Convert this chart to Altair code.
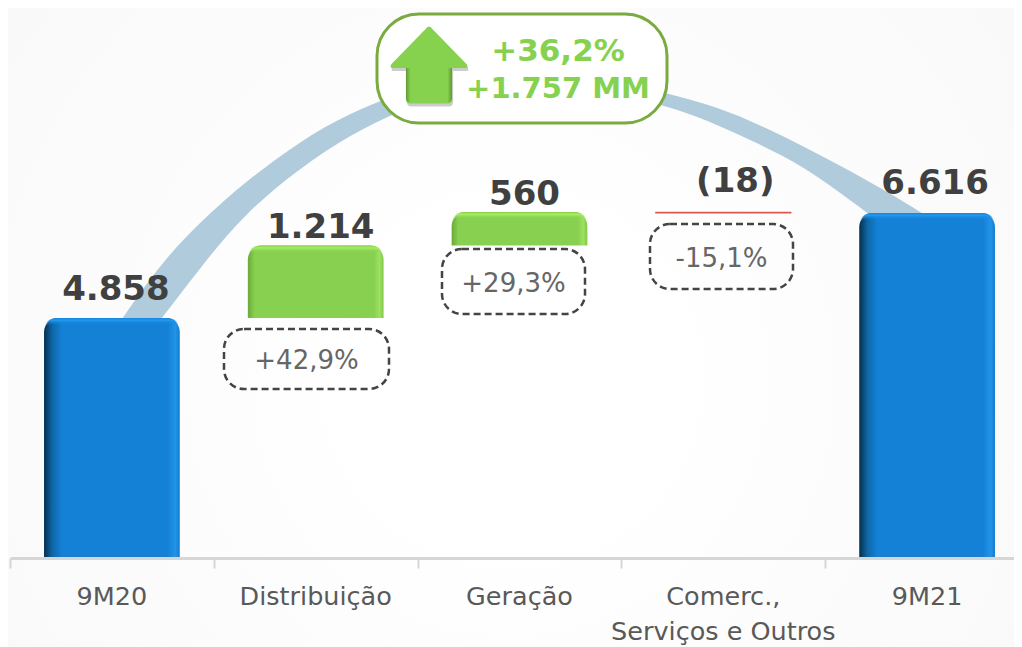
import altair as alt
import pandas as pd

# Waterfall data
categories = ["9M20", "Distribuição", "Geração", "Comerc.,\nServiços e Outros", "9M21"]
values = [4858, 1214, 560, -18, 6616]
value_labels = ["4.858", "1.214", "560", "(18)", "6.616"]
kinds = ["total", "up", "up", "down", "total"]
pct_labels = ["+42,9%", "+29,3%", "-15,1%"]
callout_lines = ["+36,2%", "+1.757 MM"]
AXIS_FLOOR = 838   # the reference's value axis is cut off here

# Arc behind the bars (category units / value units)
arc_x = [.417, .55, .746, .932, 1.153, 1.423, 1.668, 1.914, 2.159, 2.502, 2.993, 3.224, 3.42, 3.631, 3.891, 4.205, 4.48, 4.612]
arc_top = [4155, 4858, 5796, 6466, 7136, 7823, 8292, 8627, 8845, 8962, 8794, 8627, 8442, 8175, 7739, 7170, 6617, 6298]
arc_bot = [3317, 3987, 4858, 5696, 6617, 7371, 7923, 8342, 8593, 8761, 8593, 8409, 8175, 7840, 7421, 6617, 5947, 5495]

rows, run = [], 0
for i, (c, v, lab, k) in enumerate(zip(categories, values, value_labels, kinds)):
    if k == "total":
        lo, hi = AXIS_FLOOR, v
        run = v
    else:
        lo, hi = run, run + v
        run += v
    rows.append(dict(cat=c, label=lab, kind=k, x0=i + .167, x1=i + .833, xc=i + .5,
                     top=max(lo, hi), bottom=min(lo, hi), rim=max(lo, hi) - 400))
df = pd.DataFrame(rows)

W, H = 1004, 550
xs = alt.Scale(domain=[0, W / 203.8], nice=False, zero=False)
ys = alt.Scale(domain=[AXIS_FLOOR, 10050], nice=False, zero=False)
x_axis = alt.Axis(values=[0, 1, 2, 3, 4], labels=False, title=None, grid=False, zindex=1,
                  domainColor="#d6d6d6", domainWidth=3, tickColor="#d6d6d6", tickWidth=2, tickSize=10)
X = lambda f: alt.X(f, type="quantitative", scale=xs, axis=x_axis)
Y = lambda f: alt.Y(f, type="quantitative", scale=ys, axis=None)
one = alt.Data(values=[{"a": 1}])


def hgrad(stops):
    return alt.Gradient(gradient="linear", x1=0, x2=1, y1=0, y2=0,
                        stops=[alt.GradientStop(offset=o, color=c) for o, c in stops])


def vgrad(stops):
    return alt.Gradient(gradient="linear", x1=0, x2=0, y1=0, y2=1,
                        stops=[alt.GradientStop(offset=o, color=c) for o, c in stops])


BLUE = hgrad([(0, "#052f4e"), (.06, "#0e66a6"), (.13, "#1480d6"), (.91, "#1480d6"), (.97, "#2095ea"), (1, "#1579c8")])
GREEN = hgrad([(0, "#6ca83c"), (.05, "#88d04f"), (.93, "#88d04f"), (.97, "#9be25e"), (1, "#84c64c")])
BLUE_RIM = vgrad([(0, "#1685dc"), (.1, "#2098ee"), (.3, "rgba(20,128,214,0)"), (1, "rgba(20,128,214,0)")])
GREEN_RIM = vgrad([(0, "#8ad04e"), (.1, "#a6ee62"), (.3, "rgba(136,208,79,0)"), (1, "rgba(136,208,79,0)")])

# Background wash
bg = alt.Chart(one).mark_rect(fill=alt.Gradient(
    gradient="radial", x1=.5, y1=.55, r1=.15, x2=.5, y2=.55, r2=.75,
    stops=[alt.GradientStop(offset=0, color="#ffffff"), alt.GradientStop(offset=1, color="#f7f7f7")]
)).encode(x=alt.value(-2), x2=alt.value(W), y=alt.value(0), y2=alt.value(H + 89))

arc = alt.Chart(pd.DataFrame({"x": arc_x, "t": arc_top, "b": arc_bot})).mark_area(
    color="#b0cbdc", interpolate="basis").encode(x=X("x"), y=Y("t"), y2="b")

layers = [bg, arc]

base = alt.Chart(df)
for kind, fill, rim in [("total", BLUE, BLUE_RIM), ("up", GREEN, GREEN_RIM)]:
    sub = base.transform_filter(alt.datum.kind == kind)
    layers.append(sub.mark_bar(fill=fill, cornerRadiusTopLeft=14, cornerRadiusTopRight=14).encode(
        x=X("x0"), x2="x1", y=Y("top"), y2="bottom"))
    layers.append(sub.mark_bar(fill=rim, cornerRadiusTopLeft=14, cornerRadiusTopRight=14).encode(
        x=X("x0"), x2="x1", y=Y("top"), y2="rim"))
layers.append(base.transform_filter(alt.datum.kind == "down").mark_bar(color="#dc5a55", stroke="#dc5a55", strokeWidth=.6).encode(
    x=X("x0"), x2="x1", y=Y("top"), y2="bottom"))

# Bold value labels
label_dx = [4, 5, 5, 12, 8]
label_dy = [-18, -8, -7, -20, -19]
for i in range(5):
    layers.append(alt.Chart(df.iloc[[i]]).mark_text(
        font="DejaVu Sans", fontWeight="bold", fontSize=34, color="#404040", baseline="alphabetic",
        dx=label_dx[i], dy=label_dy[i]).encode(x=X("xc"), y=Y("top"), text="label:N"))

# Category labels
layers.append(base.mark_text(font="DejaVu Sans", fontSize=25.5, color="#595959", baseline="top",
                             lineBreak="\n", lineHeight=35).encode(
    x=X("xc"), y=alt.value(577), text="cat:N"))

# Dashed percent boxes
box_px = [(214, 379, 321, 381), (432, 575, 241, 306), (640, 783, 216, 281)]
for lab, (a, b, c, d) in zip(pct_labels, box_px):
    d1 = alt.Data(values=[{"t": lab}])
    layers.append(alt.Chart(d1).mark_rect(fillOpacity=0, stroke="#444444", strokeWidth=2.5, strokeDash=[7, 4],
                                          cornerRadius=20).encode(
        x=alt.value(a), x2=alt.value(b), y=alt.value(c), y2=alt.value(d)))
    layers.append(alt.Chart(d1).mark_text(font="DejaVu Sans", fontSize=26, color="#666666", baseline="middle").encode(
        x=alt.value((a + b) / 2), y=alt.value((c + d) / 2 + 2), text="t:N"))

# Callout
layers.append(alt.Chart(one).mark_rect(fill="#ffffff", stroke="#7aab3f", strokeWidth=3, cornerRadius=42).encode(
    x=alt.value(367), x2=alt.value(657), y=alt.value(6), y2=alt.value(115)))
ARROW = "M0,-1 Q.05,-1 .1,-.92 L.98,-.02 Q1.03,.08 .95,.08 L.6,.08 L.6,.88 Q.6,1 .48,1 L-.48,1 Q-.6,1 -.6,.88 L-.6,.08 L-.95,.08 Q-1.03,.08 -.98,-.02 L-.1,-.92 Q-.05,-1 0,-1 Z"
layers.append(alt.Chart(one).mark_point(shape=ARROW, filled=True, size=5929, color="#555555", opacity=.3).encode(
    x=alt.value(420), y=alt.value(60)))
layers.append(alt.Chart(one).mark_point(shape=ARROW, filled=True, size=5929, opacity=1, color="#86d24e").encode(
    x=alt.value(419), y=alt.value(57)))
layers.append(alt.Chart(one).mark_rect(cornerRadiusBottomLeft=5, cornerRadiusBottomRight=5, fill=hgrad(
    [(0, "#5f9a35"), (.1, "#86d24e"), (.9, "#86d24e"), (1, "#5f9a35")])).encode(
    x=alt.value(396), x2=alt.value(442), y=alt.value(60), y2=alt.value(95)))
for line, py, fs in zip(callout_lines, [44, 81], [31, 29]):
    layers.append(alt.Chart(alt.Data(values=[{"t": line}])).mark_text(
        font="DejaVu Sans", fontWeight="bold", fontSize=fs, color="#86d24e", baseline="middle").encode(
        x=alt.value(548), y=alt.value(py), text="t:N"))

chart = alt.layer(*layers).properties(
    width=W, height=H,
    autosize=alt.AutoSizeParams(type="none"),
    padding={"left": 2, "top": 0, "right": 0, "bottom": 89},
).configure_view(stroke=None)

chart.save("out.html", embed_options={"renderer": "svg", "actions": False})
